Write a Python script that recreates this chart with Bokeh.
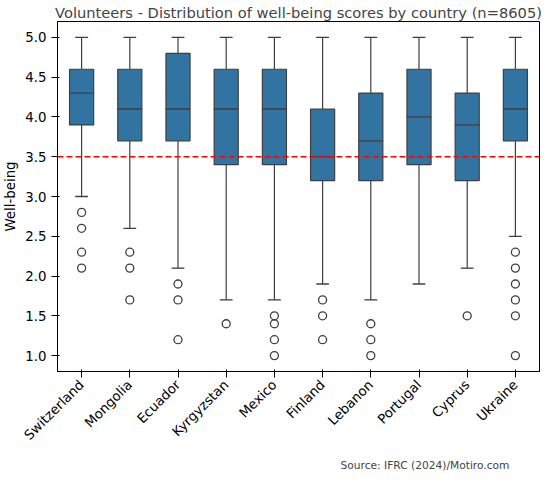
from bokeh.plotting import figure
from bokeh.models import Span, Title, CustomJSTickFormatter
from bokeh.embed import file_html
from bokeh.resources import INLINE
import math

countries = ["Switzerland", "Mongolia", "Ecuador", "Kyrgyzstan", "Mexico",
             "Finland", "Lebanon", "Portugal", "Cyprus", "Ukraine"]
q1 = [3.9, 3.7, 3.7, 3.4, 3.4, 3.2, 3.2, 3.4, 3.2, 3.7]
med = [4.3, 4.1, 4.1, 4.1, 4.1, 3.5, 3.7, 4.0, 3.9, 4.1]
q3 = [4.6, 4.6, 4.8, 4.6, 4.6, 4.1, 4.3, 4.6, 4.3, 4.6]
low = [3.0, 2.6, 2.1, 1.7, 1.7, 1.9, 1.7, 1.9, 2.1, 2.5]
high = [5.0, 5.0, 5.0, 5.0, 5.0, 5.0, 5.0, 5.0, 5.0, 5.0]
outliers = {
    "Switzerland": [2.8, 2.6, 2.3, 2.1],
    "Mongolia": [2.3, 2.1, 1.7],
    "Ecuador": [1.9, 1.7, 1.2],
    "Kyrgyzstan": [1.4],
    "Mexico": [1.5, 1.4, 1.2, 1.0],
    "Finland": [1.7, 1.5, 1.2],
    "Lebanon": [1.4, 1.2, 1.0],
    "Cyprus": [1.5],
    "Ukraine": [2.3, 2.1, 1.9, 1.7, 1.5, 1.0],
}
col = "#3274a1"
font = "DejaVu Sans"

p = figure(x_range=countries, y_range=(0.8, 5.2), width=545, height=476,
           output_backend="svg", toolbar_location=None, tools="",
           min_border_left=0, min_border_right=6, min_border_top=0, min_border_bottom=0)
p.title.text = "Volunteers - Distribution of well-being scores by country (n=8605)"
p.title.text_font_size = "11pt"
p.title.text_font = font
p.title.text_font_style = "normal"
p.title.align = "center"
p.title.standoff = 2
p.title.offset = -4
p.add_layout(Title(text="Source: IFRC (2024)/Motiro.com", align="right", offset=30,
                   text_font_size="8pt", text_font_style="normal", text_font=font), "below")

p.segment(countries, low, countries, q1, color="#3f3f3f", line_width=1.2)
p.segment(countries, q3, countries, high, color="#3f3f3f", line_width=1.2)
p.vbar(x=countries, bottom=q1, top=q3, width=0.5, fill_color=col, line_color="#3f3f3f", line_width=1.2)
p.rect(x=countries, y=med, width=0.5, height=0.001, line_color="#3f3f3f", line_width=1.2)
p.rect(x=countries, y=low, width=0.25, height=0.001, line_color="#3f3f3f", line_width=1.2)
p.rect(x=countries, y=high, width=0.25, height=0.001, line_color="#3f3f3f", line_width=1.2)

ox = []
oy = []
for c in outliers:
    for v in outliers[c]:
        ox.append(c)
        oy.append(v)
p.scatter(ox, oy, size=8, fill_color=None, line_color="#3f3f3f", line_width=1.3)

p.add_layout(Span(location=3.5, dimension="width", line_color="red", line_dash="6 3", line_width=1.6))

p.xgrid.visible = False
p.ygrid.visible = False
p.outline_line_color = "black"
p.yaxis.axis_label = "Well-being"
p.yaxis.axis_label_text_font_style = "normal"
p.yaxis.axis_label_text_font_size = "10pt"
p.yaxis.axis_label_text_font = font
p.yaxis.axis_label_text_color = "black"
p.yaxis.axis_label_standoff = 4
p.yaxis.ticker = [1.0, 1.5, 2.0, 2.5, 3.0, 3.5, 4.0, 4.5, 5.0]
p.yaxis.formatter = CustomJSTickFormatter(code="return tick.toFixed(1)")
p.xaxis.major_label_orientation = math.pi / 4
p.axis.major_label_text_font_size = "10pt"
p.axis.major_label_text_font = font
p.axis.major_label_text_color = "black"
p.axis.minor_tick_line_color = None
p.axis.major_tick_line_color = "black"
p.axis.axis_line_color = "black"

open("out.html", "w").write(file_html(p, INLINE))
